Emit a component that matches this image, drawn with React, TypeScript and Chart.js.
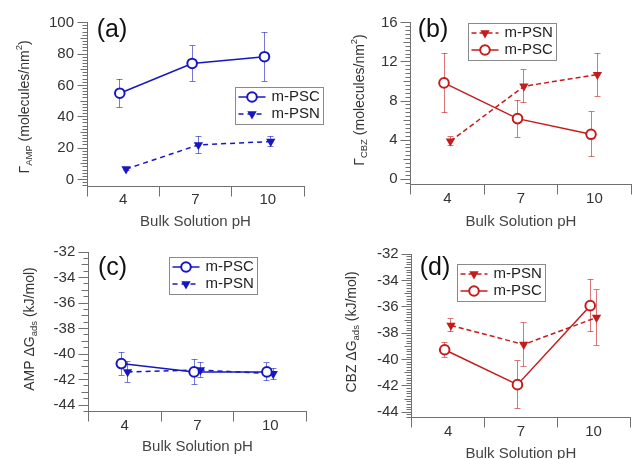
import React, { useEffect, useRef } from 'react';
import { Chart, registerables } from 'chart.js';

Chart.register(...registerables);

// ---------------- data ----------------
const pH = [4, 7, 10];
const phTickLabels = ['4', '7', '10'];
const seriesNames = ['m-PSC', 'm-PSN'];
const xTitle = 'Bulk Solution pH';

// (a) AMP surface excess
const ampPSC = [55, 74, 78.3];
const ampPSCErr = [9, 11.3, 15.6];
const ampPSN = [6.6, 22, 24.2];
const ampPSNErr = [1.2, 5.6, 3.4];

// (b) CBZ surface excess
const cbzPSC = [9.85, 6.2, 4.6];
const cbzPSCErr = [3.05, 1.9, 2.3];
const cbzPSN = [3.9, 9.5, 10.7];
const cbzPSNErr = [0.45, 1.7, 2.2];

// (c) AMP ΔG_ads
const ampGPSC = [-40.75, -41.4, -41.4];
const ampGPSCErr = [0.9, 1.0, 0.7];
const ampGPSN = [-41.4, -41.25, -41.55];
const ampGPSNErr = [0.8, 0.6, 0.45];

// (d) CBZ ΔG_ads
const cbzGPSC = [-39.25, -41.9, -35.9];
const cbzGPSCErr = [0.55, 1.8, 2.0];
const cbzGPSN = [-37.4, -38.85, -36.8];
const cbzGPSNErr = [0.5, 1.65, 2.1];

const ticksA = [0, 20, 40, 60, 80, 100];
const ticksB = [0, 4, 8, 12, 16];
const ticksG = [-44, -42, -40, -38, -36, -34, -32];

// ---------------- styles ----------------
const FONT = '"Liberation Sans", Arial, sans-serif';
const BLUE = '#1717c2';
const BLUE_ERR = 'rgba(30,30,190,0.6)';
const RED = '#c41c1c';
const RED_ERR = 'rgba(196,28,28,0.6)';
const AXIS = '#707070';
const TEXT = '#333333';
const TICK_SIZE = 15;
const TITLE_SIZE = 14;
const SUB_SIZE = 9.5;
const PSC_SHIFT = -0.14;
const PSN_SHIFT = 0.12;
const X_HALF = 1.5;
const LEG_W = 88;
const LEG_H = 37;
const LEG_ROWS = [10, 27];

type Seg = [string, 'n' | 'sub' | 'sup'];

interface PanelSpec {
  canvas: { x: number; y: number; w: number; h: number };
  plot: { l: number; r: number; t: number; b: number };
  xTitleY: number;
  yMin: number;
  yMax: number;
  yTicks: number[];
  minorStep: number;
  minorPerMajor: number;
  label: string;
  labelPos: [number, number];
  yTitle: Seg[];
  yTitlePos: [number, number];
  legendPos: [number, number];
  legendOrder: number[];
  color: string;
  errColor: string;
  dash: number[];
  psc: number[];
  pscErr: number[];
  psn: number[];
  psnErr: number[];
}

const panels: PanelSpec[] = [
  {
    canvas: { x: 0, y: 0, w: 330, h: 236 },
    plot: { l: 87, r: 304, t: 22.7, b: 186 },
    xTitleY: 222,
    yMin: -4.2, yMax: 100, yTicks: ticksA, minorStep: 2, minorPerMajor: 10,
    label: '(a)', labelPos: [112, 30],
    yTitle: [['Γ', 'n'], ['AMP', 'sub'], [' (molecules/nm', 'n'], ['2', 'sup'], [')', 'n']],
    yTitlePos: [25, 107],
    legendPos: [235, 87], legendOrder: [0, 1],
    color: BLUE, errColor: BLUE_ERR, dash: [5, 4],
    psc: ampPSC, pscErr: ampPSCErr, psn: ampPSN, psnErr: ampPSNErr,
  },
  {
    canvas: { x: 318, y: 0, w: 320, h: 236 },
    plot: { l: 410.7, r: 635.7, t: 22.7, b: 184.5 },
    xTitleY: 222,
    yMin: -0.53, yMax: 16, yTicks: ticksB, minorStep: 0.4, minorPerMajor: 10,
    label: '(b)', labelPos: [433, 30],
    yTitle: [['Γ', 'n'], ['CBZ', 'sub'], [' (molecules/nm', 'n'], ['2', 'sup'], [')', 'n']],
    yTitlePos: [360, 100],
    legendPos: [468, 23], legendOrder: [1, 0],
    color: RED, errColor: RED_ERR, dash: [5, 3],
    psc: cbzPSC, pscErr: cbzPSCErr, psn: cbzPSN, psnErr: cbzPSNErr,
  },
  {
    canvas: { x: 0, y: 230, w: 330, h: 236 },
    plot: { l: 88.3, r: 306.7, t: 250, b: 411.7 },
    xTitleY: 446.7,
    yMin: -44.52, yMax: -32, yTicks: ticksG, minorStep: 0.5, minorPerMajor: 4,
    label: '(c)', labelPos: [112.5, 268],
    yTitle: [['AMP ΔG', 'n'], ['ads', 'sub'], [' (kJ/mol)', 'n']],
    yTitlePos: [30, 329],
    legendPos: [169, 257], legendOrder: [0, 1],
    color: BLUE, errColor: BLUE_ERR, dash: [5, 4],
    psc: ampGPSC, pscErr: ampGPSCErr, psn: ampGPSN, psnErr: ampGPSNErr,
  },
  {
    canvas: { x: 318, y: 230, w: 320, h: 236 },
    plot: { l: 411.7, r: 630, t: 254.3, b: 417.7 },
    xTitleY: 454.3,
    yMin: -44.41, yMax: -32, yTicks: ticksG, minorStep: 0.2, minorPerMajor: 10,
    label: '(d)', labelPos: [435, 268],
    yTitle: [['CBZ ΔG', 'n'], ['ads', 'sub'], [' (kJ/mol)', 'n']],
    yTitlePos: [352, 332],
    legendPos: [457, 264], legendOrder: [1, 0],
    color: RED, errColor: RED_ERR, dash: [5, 3],
    psc: cbzGPSC, pscErr: cbzGPSCErr, psn: cbzGPSN, psnErr: cbzGPSNErr,
  },
];

function alignPx(v: number) {
  return Math.round(v - 0.5) + 0.5;
}

function drawMarker(ctx: CanvasRenderingContext2D, ds: any, x: number, y: number) {
  const r = ds.pointRadius;
  ctx.save();
  ctx.setLineDash([]);
  ctx.beginPath();
  if (ds.pointStyle === 'triangle') {
    let rad = ((ds.pointRotation || 0) * Math.PI) / 180;
    ctx.moveTo(x + Math.sin(rad) * r, y - Math.cos(rad) * r);
    rad += (2 * Math.PI) / 3;
    ctx.lineTo(x + Math.sin(rad) * r, y - Math.cos(rad) * r);
    rad += (2 * Math.PI) / 3;
    ctx.lineTo(x + Math.sin(rad) * r, y - Math.cos(rad) * r);
    ctx.closePath();
  } else {
    ctx.arc(x, y, r, 0, Math.PI * 2);
  }
  ctx.fillStyle = ds.pointBackgroundColor;
  ctx.fill();
  if (ds.pointBorderWidth) {
    ctx.lineWidth = ds.pointBorderWidth;
    ctx.strokeStyle = ds.pointBorderColor;
    ctx.stroke();
  }
  ctx.restore();
}

function drawRich(ctx: CanvasRenderingContext2D, segs: Seg[], cx: number, cy: number) {
  ctx.save();
  ctx.translate(cx, cy);
  ctx.rotate(-Math.PI / 2);
  const fontFor = (k: string) => `${k === 'n' ? TITLE_SIZE : SUB_SIZE}px ${FONT}`;
  let total = 0;
  for (const [t, k] of segs) {
    ctx.font = fontFor(k);
    total += ctx.measureText(t).width;
  }
  let x = -total / 2;
  ctx.textAlign = 'left';
  ctx.textBaseline = 'middle';
  ctx.fillStyle = TEXT;
  for (const [t, k] of segs) {
    ctx.font = fontFor(k);
    const dy = k === 'sub' ? 4.5 : k === 'sup' ? -5.5 : 0;
    ctx.fillText(t, x, dy);
    x += ctx.measureText(t).width;
  }
  ctx.restore();
}

function makeErrorPlugin(spec: PanelSpec) {
  return {
    id: 'errorBars',
    beforeDatasetsDraw(chart: any) {
      const ctx: CanvasRenderingContext2D = chart.ctx;
      const ys = chart.scales.y;
      ctx.save();
      ctx.lineWidth = 1;
      ctx.strokeStyle = spec.errColor;
      chart.data.datasets.forEach((ds: any, di: number) => {
        const meta = chart.getDatasetMeta(di);
        meta.data.forEach((pt: any, i: number) => {
          const v = ds.data[i].y;
          const e = ds.errors[i];
          const x = alignPx(pt.x);
          const y1 = ys.getPixelForValue(v + e);
          const y2 = ys.getPixelForValue(v - e);
          ctx.beginPath();
          ctx.moveTo(x, y1);
          ctx.lineTo(x, y2);
          ctx.moveTo(x - 3, alignPx(y1));
          ctx.lineTo(x + 3, alignPx(y1));
          ctx.moveTo(x - 3, alignPx(y2));
          ctx.lineTo(x + 3, alignPx(y2));
          ctx.stroke();
        });
      });
      ctx.restore();
    },
  };
}

function makeDecorPlugin(spec: PanelSpec) {
  const ox = spec.canvas.x;
  const oy = spec.canvas.y;
  return {
    id: 'decor',
    afterDraw(chart: any) {
      const ctx: CanvasRenderingContext2D = chart.ctx;
      const { left, bottom } = chart.chartArea;
      const ys = chart.scales.y;
      const xs = chart.scales.x;
      ctx.save();
      ctx.strokeStyle = AXIS;
      ctx.lineWidth = 1;
      // y axis major / medium / minor ticks
      const n = spec.minorPerMajor;
      const k0 = Math.ceil(spec.yMin / spec.minorStep - 1e-6);
      const k1 = Math.floor(spec.yMax / spec.minorStep + 1e-6);
      const axX = alignPx(left);
      ctx.beginPath();
      for (let k = k0; k <= k1; k++) {
        const m = ((k % n) + n) % n;
        const len = m === 0 ? 10 : n % 2 === 0 && m === n / 2 ? 7 : 5;
        const y = alignPx(ys.getPixelForValue(k * spec.minorStep));
        ctx.moveTo(axX - len, y);
        ctx.lineTo(axX, y);
      }
      // x axis category boundary ticks
      const bounds = [pH[0] - X_HALF, ...pH.map((p) => p + X_HALF)];
      const axY = alignPx(bottom);
      for (const b of bounds) {
        const x = alignPx(xs.getPixelForValue(b));
        ctx.moveTo(x, axY);
        ctx.lineTo(x, axY + 10);
      }
      ctx.stroke();

      // legend
      const lx = spec.legendPos[0] - ox;
      const ly = spec.legendPos[1] - oy;
      ctx.fillStyle = '#ffffff';
      ctx.fillRect(lx, ly, LEG_W, LEG_H);
      ctx.strokeStyle = '#8a8a8a';
      ctx.lineWidth = 1;
      ctx.strokeRect(alignPx(lx), alignPx(ly), LEG_W, LEG_H);
      spec.legendOrder.forEach((di, row) => {
        const ds = chart.data.datasets[di];
        const yRow = ly + LEG_ROWS[row];
        ctx.save();
        ctx.strokeStyle = ds.borderColor;
        ctx.lineWidth = ds.borderWidth;
        ctx.setLineDash(ds.borderDash || []);
        ctx.beginPath();
        ctx.moveTo(lx + 3.5, yRow);
        ctx.lineTo(lx + 30.5, yRow);
        ctx.stroke();
        ctx.restore();
        drawMarker(ctx, ds, lx + 17, yRow);
        ctx.fillStyle = '#222222';
        ctx.font = `${TICK_SIZE}px ${FONT}`;
        ctx.textAlign = 'left';
        ctx.textBaseline = 'middle';
        ctx.fillText(ds.label, lx + 36.5, yRow);
      });

      // panel label
      ctx.fillStyle = '#111111';
      ctx.font = `25px ${FONT}`;
      ctx.textAlign = 'center';
      ctx.textBaseline = 'middle';
      ctx.fillText(spec.label, spec.labelPos[0] - ox, spec.labelPos[1] - oy);

      // y axis title with sub/superscripts
      drawRich(ctx, spec.yTitle, spec.yTitlePos[0] - ox, spec.yTitlePos[1] - oy);
      ctx.restore();
    },
  };
}

function buildConfig(spec: PanelSpec): any {
  const ox = spec.canvas.x;
  const oy = spec.canvas.y;
  const cl = spec.plot.l - ox;
  const ct = spec.plot.t - oy;
  const cr = spec.plot.r - ox;
  const cb = spec.plot.b - oy;
  const titleBottom = spec.xTitleY - oy + (TICK_SIZE * 1.2) / 2;
  const tickFont = { family: FONT, size: TICK_SIZE };

  const pscDataset = {
    label: seriesNames[0],
    data: pH.map((p, i) => ({ x: p + PSC_SHIFT, y: spec.psc[i] })),
    errors: spec.pscErr,
    borderColor: spec.color,
    backgroundColor: spec.color,
    borderWidth: 1.5,
    pointStyle: 'circle',
    pointRadius: 4.8,
    pointBorderWidth: 2,
    pointBorderColor: spec.color,
    pointBackgroundColor: '#ffffff',
    tension: 0,
  };
  const psnDataset = {
    label: seriesNames[1],
    data: pH.map((p, i) => ({ x: p + PSN_SHIFT, y: spec.psn[i] })),
    errors: spec.psnErr,
    borderColor: spec.color,
    backgroundColor: spec.color,
    borderWidth: 1.5,
    borderDash: spec.dash,
    pointStyle: 'triangle',
    pointRotation: 180,
    pointRadius: 5.4,
    pointBorderWidth: 0,
    pointBorderColor: spec.color,
    pointBackgroundColor: spec.color,
    tension: 0,
  };

  return {
    type: 'line',
    data: { datasets: [pscDataset, psnDataset] },
    options: {
      animation: false,
      responsive: false,
      devicePixelRatio: 1,
      events: [],
      layout: {
        padding: { left: 0, top: ct, right: spec.canvas.w - cr, bottom: spec.canvas.h - titleBottom },
      },
      plugins: { legend: { display: false }, tooltip: { enabled: false } },
      scales: {
        x: {
          type: 'linear',
          bounds: 'data',
          min: pH[0] - X_HALF,
          max: pH[pH.length - 1] + X_HALF,
          afterBuildTicks: (s: any) => {
            s.ticks = pH.map((v) => ({ value: v }));
          },
          afterFit: (s: any) => {
            s.height = titleBottom - cb;
          },
          ticks: {
            autoSkip: false,
            maxRotation: 0,
            padding: 5,
            font: tickFont,
            color: TEXT,
            callback: (v: any) => {
              const i = pH.indexOf(Number(v));
              return i >= 0 ? phTickLabels[i] : '';
            },
          },
          grid: { display: false, drawTicks: false },
          border: { display: true, color: AXIS, width: 1 },
          title: { display: true, text: xTitle, font: tickFont, color: '#444444', padding: 0 },
        },
        y: {
          type: 'linear',
          bounds: 'data',
          min: spec.yMin,
          max: spec.yMax,
          afterBuildTicks: (s: any) => {
            s.ticks = spec.yTicks.map((v) => ({ value: v }));
          },
          afterFit: (s: any) => {
            s.width = cl;
          },
          ticks: { autoSkip: false, padding: 13, font: tickFont, color: TEXT },
          grid: { display: false, drawTicks: false },
          border: { display: true, color: AXIS, width: 1 },
        },
      },
    },
    plugins: [makeErrorPlugin(spec), makeDecorPlugin(spec)],
  };
}

function Panel({ spec }: { spec: PanelSpec }) {
  const ref = useRef<HTMLCanvasElement>(null);
  useEffect(() => {
    if (!ref.current) return;
    const chart = new Chart(ref.current, buildConfig(spec));
    return () => chart.destroy();
  }, [spec]);
  const c = spec.canvas;
  return (
    <canvas
      ref={ref}
      width={c.w}
      height={c.h}
      style={{ position: 'absolute', left: c.x, top: c.y, width: c.w, height: c.h }}
    />
  );
}

export default function App() {
  return (
    <div
      style={{
        position: 'absolute',
        left: 0,
        top: 0,
        width: 635,
        height: 459,
        overflow: 'hidden',
        background: '#ffffff',
      }}
    >
      {panels.map((p) => (
        <Panel key={p.label} spec={p} />
      ))}
    </div>
  );
}
